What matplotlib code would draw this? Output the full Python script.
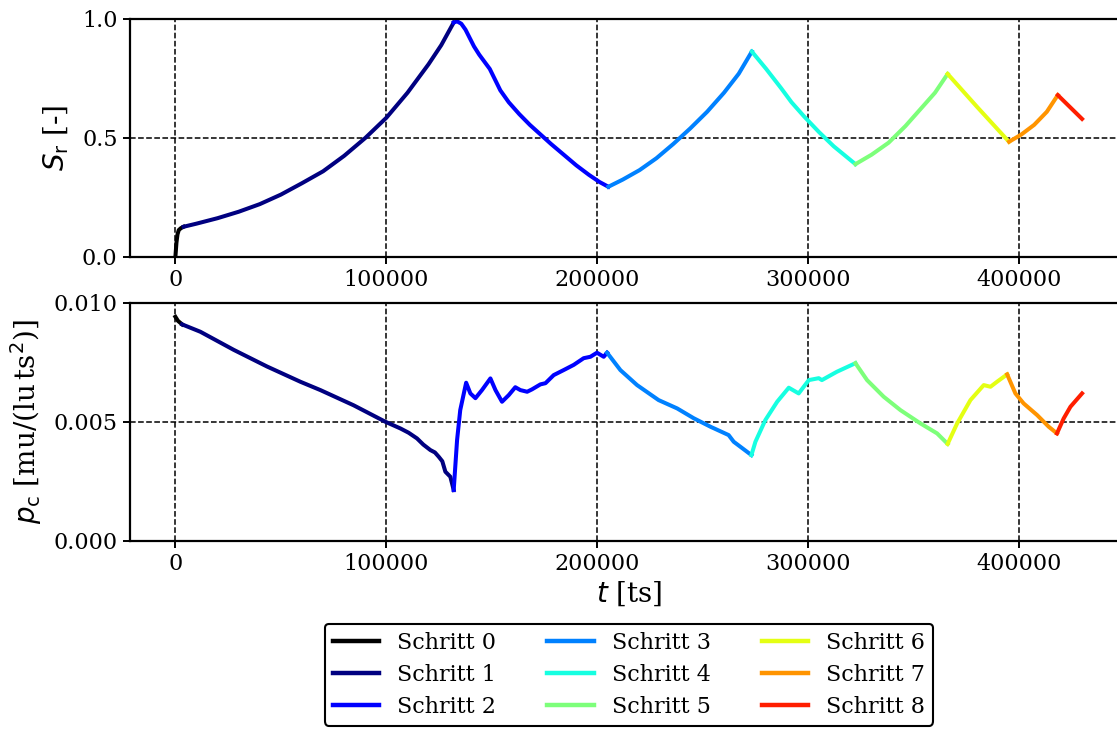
import matplotlib
matplotlib.use("Agg")
import matplotlib.pyplot as plt
from matplotlib.ticker import FixedLocator, FormatStrFormatter

plt.rcParams["font.family"] = ["DejaVu Serif"]
plt.rcParams["mathtext.fontset"] = "dejavusans"

step_labels = [f"Schritt {i}" for i in range(9)]

# Saturation S_r per step: time stamps and values
sr_t = [
    [0, 500, 1000, 1600, 2600, 3900],
    [3900, 10000, 20000, 30000, 40000, 50000, 60000, 70000, 80000, 90000, 100000,
     110000, 120000, 126000, 131900],
    [131900, 133500, 135500, 137500, 139500, 141500, 144000, 146500, 149000, 151500,
     154000, 158000, 163000, 168000, 173000, 178000, 184000, 190000, 196000, 201000, 205200],
    [205200, 212000, 220000, 228000, 236000, 244000, 252000, 260000, 267000, 273200],
    [273200, 280000, 287000, 292000, 298000, 305000, 312000, 322300],
    [322300, 330000, 338000, 346000, 354000, 360000, 366000],
    [366000, 380000, 395100],
    [395100, 401000, 407000, 413000, 418200],
    [418200, 429700],
]
sr_vals = [
    [0.0, 0.06, 0.095, 0.113, 0.121, 0.127],
    [0.127, 0.14, 0.163, 0.19, 0.222, 0.262, 0.31, 0.36, 0.425, 0.50, 0.585,
     0.69, 0.81, 0.89, 0.985],
    [0.985, 0.99, 0.98, 0.955, 0.92, 0.885, 0.85, 0.82, 0.79, 0.745,
     0.70, 0.65, 0.60, 0.555, 0.515, 0.475, 0.43, 0.385, 0.345, 0.315, 0.295],
    [0.295, 0.325, 0.365, 0.415, 0.475, 0.54, 0.61, 0.69, 0.77, 0.863],
    [0.863, 0.79, 0.71, 0.65, 0.59, 0.525, 0.465, 0.39],
    [0.39, 0.43, 0.48, 0.55, 0.63, 0.69, 0.769],
    [0.769, 0.63, 0.484],
    [0.484, 0.515, 0.555, 0.61, 0.68],
    [0.68, 0.58],
]

# Capillary pressure p_c per step: time stamps and values
pc_t = [
    [0, 1200, 3200],
    [3200, 11850, 27650, 43450, 59240, 68720, 84500, 99500, 106600, 110500, 114500,
     117500, 120850, 123000, 124800, 126500, 127960, 130300, 131900],
    [131900, 133500, 135000, 137800, 139800, 142200, 145300, 149300, 151700, 154800,
     158000, 161100, 163500, 166700, 169000, 173000, 175400, 179300, 184000, 188800,
     193500, 196700, 199800, 203000, 204600],
    [204600, 210900, 218800, 229000, 237800, 245600, 253600, 262200, 264600, 273000],
    [273000, 274900, 279600, 285200, 290700, 295400, 300200, 304900, 306400, 313500, 322300],
    [322300, 327800, 335700, 343600, 353100, 361000, 366000],
    [366000, 370500, 376800, 383100, 386300, 389400, 394200],
    [394200, 398100, 402000, 408400, 413900, 417800],
    [417800, 421000, 424200, 429700],
]
pc_vals = [
    [0.00942, 0.00925, 0.0091],
    [0.0091, 0.00879, 0.00803, 0.00733, 0.00669, 0.00634, 0.00570, 0.00501, 0.00473,
     0.00455, 0.00431, 0.00405, 0.00382, 0.00372, 0.00354, 0.00335, 0.00291, 0.0027, 0.00214],
    [0.00214, 0.00424, 0.0055, 0.00665, 0.0062, 0.006, 0.00634, 0.00683, 0.00634, 0.00585,
     0.00613, 0.00646, 0.00634, 0.00627, 0.00637, 0.00658, 0.00663, 0.00697, 0.00718, 0.0074,
     0.00768, 0.00774, 0.00791, 0.00774, 0.00791],
    [0.00791, 0.00718, 0.00655, 0.00592, 0.00557, 0.00516, 0.0048, 0.00445, 0.00417, 0.00361],
    [0.00361, 0.00417, 0.00508, 0.00585, 0.00644, 0.0062, 0.00676, 0.00684, 0.00676, 0.00711, 0.00747],
    [0.00747, 0.00676, 0.00606, 0.0055, 0.00494, 0.00452, 0.00408],
    [0.00408, 0.00494, 0.00592, 0.00655, 0.00648, 0.00669, 0.007],
    [0.007, 0.0062, 0.00578, 0.00529, 0.0048, 0.00452],
    [0.00452, 0.00515, 0.00564, 0.0062],
]

x_ticks = [0, 100000, 200000, 300000, 400000]
sr_ticks = [0.0, 0.5, 1.0]
pc_ticks = [0.000, 0.005, 0.010]

colors = ["black"] + [plt.cm.jet(i / 8) for i in range(8)]

fig = plt.figure(figsize=(11.17, 7.29), dpi=100)
ax1 = fig.add_axes([0.1164, 0.6475, 0.8935, 0.3265])
ax2 = fig.add_axes([0.1164, 0.2579, 0.8935, 0.3265])

lw = 2.9
handles = []
for k in range(9):
    h, = ax1.plot(sr_t[k], sr_vals[k], color=colors[k], lw=lw, label=step_labels[k],
                  solid_joinstyle="round")
    ax2.plot(pc_t[k], pc_vals[k], color=colors[k], lw=lw, solid_joinstyle="round")
    handles.append(h)

for ax in (ax1, ax2):
    ax.set_xlim(-21500, 451500)
    ax.xaxis.set_major_locator(FixedLocator(x_ticks))
    ax.xaxis.set_major_formatter(FormatStrFormatter("%d"))
    ax.grid(True, color="black", linestyle="--", linewidth=1.1)
    ax.tick_params(labelsize=16, length=5, width=1.4, color="black", pad=4)
    for s in ax.spines.values():
        s.set_linewidth(1.6)
        s.set_color("black")

ax1.set_ylim(0, 1)
ax1.yaxis.set_major_locator(FixedLocator(sr_ticks))
ax1.yaxis.set_major_formatter(FormatStrFormatter("%.1f"))
ax2.set_ylim(0, 0.01)
ax2.yaxis.set_major_locator(FixedLocator(pc_ticks))
ax2.yaxis.set_major_formatter(FormatStrFormatter("%.3f"))

ax1.set_ylabel(r"$S_\mathrm{r}$ [-]", fontsize=20, labelpad=8)
ax2.set_ylabel(r"$p_\mathrm{c}$ [mu/(lu$\,$ts$^2$)]", fontsize=20, labelpad=7)
ax2.set_xlabel(r"$t$ [ts]", fontsize=20, labelpad=3)

leg = fig.legend(handles=handles, loc="upper center", ncol=3,
                 bbox_to_anchor=(629 / 1117, 1 - 624 / 729), fontsize=16,
                 frameon=True, fancybox=True, handlelength=2.1,
                 borderaxespad=0.0, labelspacing=0.45, borderpad=0.35,
                 columnspacing=2.3)
leg.get_frame().set_edgecolor("black")
leg.get_frame().set_linewidth(1.5)
leg.get_frame().set_alpha(1.0)
for line in leg.get_lines():
    line.set_linewidth(3.2)

fig.savefig("out.png", dpi=100)
